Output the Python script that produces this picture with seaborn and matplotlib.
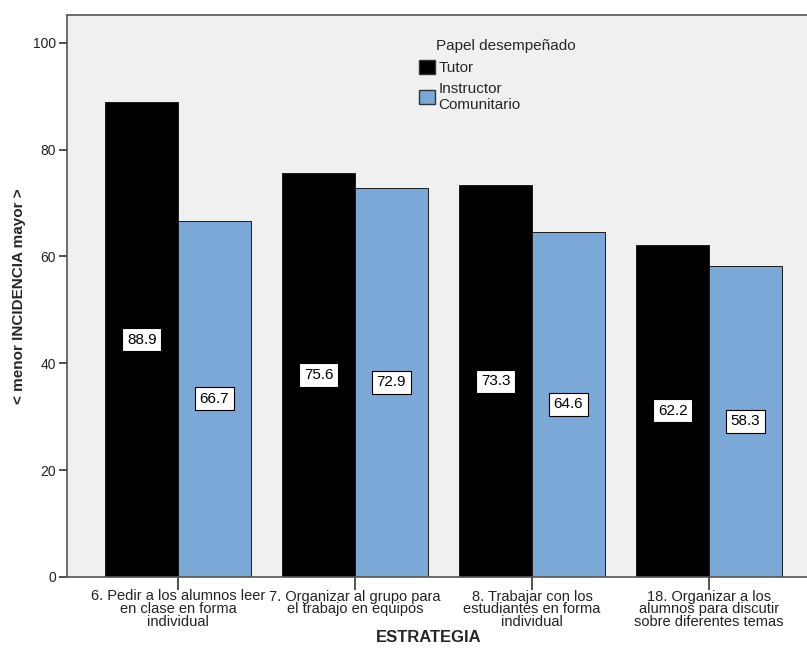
import matplotlib
matplotlib.use("Agg")
import matplotlib.pyplot as plt
import seaborn as sns
import pandas as pd

categories = [
    "6. Pedir a los alumnos leer\nen clase en forma\nindividual",
    "7. Organizar al grupo para\nel trabajo en equipos",
    "8. Trabajar con los\nestudiantes en forma\nindividual",
    "18. Organizar a los\nalumnos para discutir\nsobre diferentes temas",
]
series_names = ["Tutor", "Instructor\nComunitario"]
tutor = [88.9, 75.6, 73.3, 62.2]
instructor = [66.7, 72.9, 64.6, 58.3]
y_ticks = [0, 20, 40, 60, 80, 100]

df = pd.DataFrame({
    "ESTRATEGIA": categories * 2,
    "Papel": [series_names[0]] * 4 + [series_names[1]] * 4,
    "valor": tutor + instructor,
})

sns.set_style("white")
plt.rcParams["font.family"] = ["Liberation Sans", "DejaVu Sans"]

fig = plt.figure(figsize=(8.07, 6.59), dpi=100)
W, H = 807, 659
ax = fig.add_axes([67 / W, (H - 577) / H, (820 - 67) / W, (577 - 15) / H])
ax.set_facecolor("#F0F0F0")

palette = {series_names[0]: "#000000", series_names[1]: "#7BA8D6"}
sns.barplot(data=df, x="ESTRATEGIA", y="valor", hue="Papel", palette=palette,
            width=0.82, edgecolor="#1a1a1a", linewidth=0.7, ax=ax,
            saturation=1, errorbar=None)

for cont in ax.containers:
    for bar in cont:
        h = bar.get_height()
        ax.text(bar.get_x() + bar.get_width() / 2, h / 2, f"{h:.1f}",
                ha="center", va="center", fontsize=11, color="black",
                bbox=dict(boxstyle="square,pad=0.3", fc="white", ec="black", lw=0.8))

ax.set_xlim(-0.627, 3.627)
ax.set_ylim(0, 105.2)
ax.set_yticks(y_ticks)
ax.tick_params(axis="both", direction="out", length=6, width=1.2, color="#333333",
               labelsize=10, labelcolor="#222222", bottom=True, left=True)
ax.tick_params(axis="x", length=9, pad=0, labelsize=10.5)
ax.tick_params(axis="y", pad=2)
for s in ax.spines.values():
    s.set_color("#555555")
    s.set_linewidth(1.2)

ax.set_xlabel("ESTRATEGIA", fontsize=12, fontweight="bold")
ax.xaxis.label.set_va("center")
ax.xaxis.set_label_coords((429 - 67) / (820 - 67), -(638 - 577) / (577 - 15))
ax.set_ylabel("< menor INCIDENCIA mayor >", fontsize=11, fontweight="bold")
ax.yaxis.label.set_va("center")
ax.yaxis.set_label_coords(-(67 - 19) / (820 - 67), 0.5)
plt.setp(ax.get_xticklabels(), linespacing=0.88)

leg = ax.legend(title="    Papel desempeñado", loc="upper left",
                bbox_to_anchor=((410 - 67) / (820 - 67), (577 - 30) / (577 - 15)),
                frameon=False, fontsize=11, title_fontsize=11,
                handlelength=1.05, handleheight=1.05, handletextpad=0.2,
                labelspacing=0.45, borderpad=0.1)
leg._legend_box.align = "left"
for t in leg.get_texts():
    t.set_linespacing(1.15)
for h in leg.legend_handles:
    h.set_edgecolor("#333333")
    h.set_linewidth(1.0)

fig.savefig("out.png", dpi=100, facecolor="white")
